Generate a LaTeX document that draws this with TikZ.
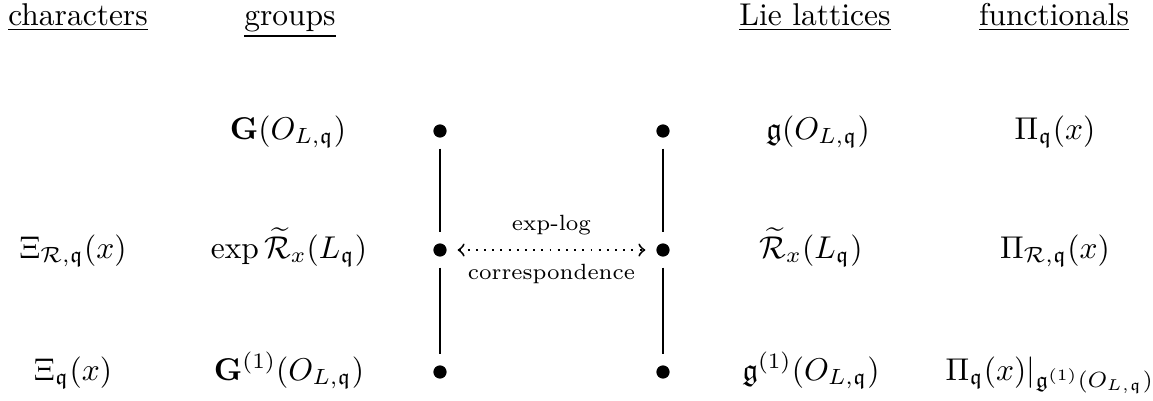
\documentclass[tikz,border=0pt]{standalone}
\usepackage{amsmath,amssymb}
\begin{document}
\begin{tikzpicture}[x=0.3175pt,y=-0.3175pt,
  hdr/.style={anchor=base,inner sep=0pt},
  lbl/.style={anchor=base,inner sep=0pt},
  dot/.style={circle,fill=black,inner sep=0pt,minimum size=4.2pt},
  vline/.style={line width=0.8pt,shorten >=3.3pt,shorten <=3.3pt},
  corr/.style={dotted,<->,line width=0.6pt,shorten >=3.3pt,shorten <=3.3pt}]
\useasboundingbox (0,0) rectangle (1153,400);
% headers
\node[hdr] (hc) at (78,25) {\underline{characters}};
\node[hdr] (hg) at (290,25) {\underline{groups}};
\node[hdr] (hl) at (815,25) {\underline{Lie lattices}};
\node[hdr] (hf) at (1054,25) {\underline{functionals}};
% row 1
\node[lbl] (g1) at (288,139) {$\mathbf{G}(O_{L,\mathfrak{q}})$};
\node[lbl] (l1) at (818,139) {$\mathfrak{g}(O_{L,\mathfrak{q}})$};
\node[lbl] (f1) at (1055,139) {$\Pi_{\mathfrak{q}}(x)$};
% row 2
\node[lbl] (c2) at (73,258) {$\Xi_{\mathcal{R},\mathfrak{q}}(x)$};
\node[lbl] (g2) at (289,258) {$\exp\widetilde{\mathcal{R}}_x(L_{\mathfrak{q}})$};
\node[lbl] (l2) at (811,258) {$\widetilde{\mathcal{R}}_x(L_{\mathfrak{q}})$};
\node[lbl] (f2) at (1055,258) {$\Pi_{\mathcal{R},\mathfrak{q}}(x)$};
% row 3
\node[lbl] (c3) at (73,380) {$\Xi_{\mathfrak{q}}(x)$};
\node[lbl] (g3) at (289,380) {$\mathbf{G}^{(1)}(O_{L,\mathfrak{q}})$};
\node[lbl] (l3) at (811,380) {$\mathfrak{g}^{(1)}(O_{L,\mathfrak{q}})$};
\node[lbl] (f3) at (1050,380) {$\Pi_{\mathfrak{q}}(x)|_{\mathfrak{g}^{(1)}(O_{L,\mathfrak{q}})}$};
% dots
\node[dot] (a1) at (440,131) {};
\node[dot] (a2) at (440,250) {};
\node[dot] (a3) at (440,372) {};
\node[dot] (b1) at (663,131) {};
\node[dot] (b2) at (663,250) {};
\node[dot] (b3) at (663,372) {};
\draw[vline] (a1) -- (a2);
\draw[vline] (a2) -- (a3);
\draw[vline] (b1) -- (b2);
\draw[vline] (b2) -- (b3);
\draw[corr] (a2) -- node[above=1pt,font=\scriptsize]{exp-log} node[below=1pt,font=\scriptsize]{correspondence} (b2);
\end{tikzpicture}
\end{document}
